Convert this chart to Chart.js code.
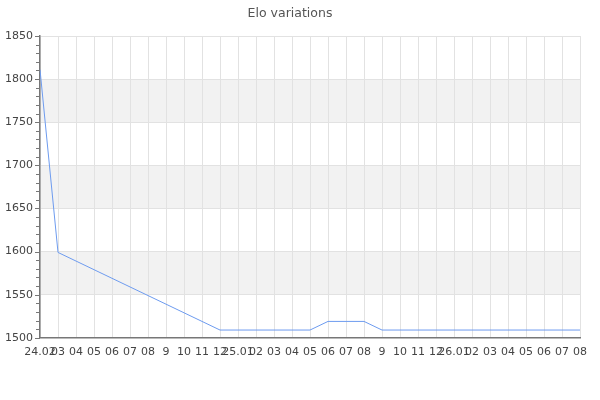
<!DOCTYPE html>
<html>
<head>
<meta charset="utf-8">
<script src="https://cdn.jsdelivr.net/npm/chart.js@4/dist/chart.umd.min.js"></script>
<style>
  html, body { margin: 0; padding: 0; background: #fff; }
  #wrap { width: 600px; height: 400px; }
</style>
</head>
<body>
<div id="wrap"><canvas id="elo"></canvas></div>
<script>
// axis labels (one per game day)
const dayLabels = ['24.02', '03', '04', '05', '06', '07', '08', '9', '10', '11', '12',
  '25.01', '02', '03', '04', '05', '06', '07', '08', '9', '10', '11', '12',
  '26.01', '02', '03', '04', '05', '06', '07', '08'];

// elo values
const eloValues = [1811, 1599, 1589, 1579, 1569, 1559, 1549, 1539, 1529, 1519, 1509,
  1509, 1509, 1509, 1509, 1509, 1519, 1519, 1519, 1509, 1509, 1509, 1509,
  1509, 1509, 1509, 1509, 1509, 1509, 1509, 1509];

const yMin = 1500;
const yMax = 1850;
const yStep = 50;
const yMinorStep = 10;

// grey bands every other step, drawn below the grid
const bandsPlugin = {
  id: 'bands',
  beforeDraw(chart) {
    const { ctx, chartArea } = chart;
    const y = chart.scales.y;
    ctx.save();
    ctx.fillStyle = '#f2f2f2';
    for (let v = yMin + yStep; v < yMax; v += 2 * yStep) {
      const top = y.getPixelForValue(v + yStep);
      const bottom = y.getPixelForValue(v);
      ctx.fillRect(chartArea.left, top, chartArea.right - chartArea.left, bottom - top);
    }
    ctx.restore();
  }
};

// small minor ticks on the left of the y axis
const minorTicksPlugin = {
  id: 'minorTicks',
  afterDraw(chart) {
    const { ctx, chartArea } = chart;
    const y = chart.scales.y;
    ctx.save();
    ctx.strokeStyle = '#777';
    ctx.lineWidth = 1;
    for (let v = yMin; v <= yMax; v += yMinorStep) {
      const py = Math.round(y.getPixelForValue(v)) + 0.5;
      const len = (v % yStep === 0) ? 5 : 4;
      ctx.beginPath();
      ctx.moveTo(chartArea.left - len, py);
      ctx.lineTo(chartArea.left, py);
      ctx.stroke();
    }
    ctx.restore();
  }
};

new Chart(document.getElementById('elo'), {
  type: 'line',
  data: {
    labels: dayLabels,
    datasets: [{
      label: 'Elo',
      data: eloValues,
      borderColor: '#6d9bef',
      borderWidth: 1,
      pointRadius: 0,
      tension: 0,
      fill: false
    }]
  },
  options: {
    responsive: true,
    maintainAspectRatio: false,
    animation: false,
    layout: { padding: { left: 0, right: 20, top: 0, bottom: 33 } },
    plugins: {
      legend: { display: false },
      tooltip: { enabled: false },
      title: {
        display: true,
        text: 'Elo variations',
        color: '#555',
        font: { family: 'DejaVu Sans', size: 12.5, weight: 'normal' },
        padding: { top: 6, bottom: 15 }
      }
    },
    scales: {
      x: {
        offset: false,
        grid: { color: '#e2e2e2', drawTicks: false },
        border: { color: '#777', width: 1.5 },
        ticks: {
          autoSkip: false,
          maxRotation: 0,
          minRotation: 0,
          padding: 8,
          color: '#444',
          font: { family: 'DejaVu Sans', size: 11 }
        }
      },
      y: {
        min: yMin,
        max: yMax,
        afterFit(scale) { scale.width = 40; },
        grid: { color: '#e2e2e2', drawTicks: false },
        border: { color: '#777', width: 1.5 },
        ticks: {
          stepSize: yStep,
          padding: 7,
          color: '#444',
          font: { family: 'DejaVu Sans', size: 11 },
          callback: (v) => String(v)
        }
      }
    }
  },
  plugins: [bandsPlugin, minorTicksPlugin]
});
</script>
</body>
</html>
